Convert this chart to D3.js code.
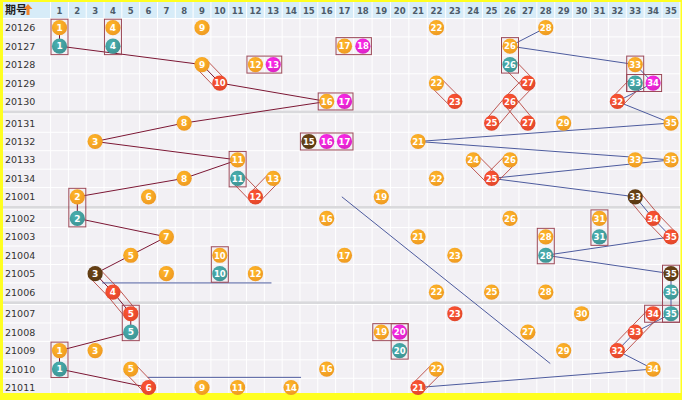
<!DOCTYPE html>
<html>
<head>
<meta charset="utf-8">
<script src="https://cdn.jsdelivr.net/npm/d3@7"></script>
<style>
  html, body { margin: 0; padding: 0; background: #fff; }
  svg { display: block; }
</style>
</head>
<body>
<svg id="chart" width="682" height="400"></svg>
<script>
// Draw periods (row labels)
const periods = ["20126","20127","20128","20129","20130","20131","20132","20133","20134","21001",
                 "21002","21003","21004","21005","21006","21007","21008","21009","21010","21011"];

// Front-zone numbers drawn in each period
const draws = [
  [1,4,9,22,28],
  [1,4,17,18,26],
  [9,12,13,26,33],
  [10,22,27,33,34],
  [16,17,23,26,32],
  [8,25,27,29,35],
  [3,15,16,17,21],
  [11,24,26,33,35],
  [8,11,13,22,25],
  [2,6,12,19,33],
  [2,16,26,31,34],
  [7,21,28,31,35],
  [5,10,17,23,28],
  [3,7,10,12,35],
  [4,22,25,28,35],
  [5,23,30,34,35],
  [5,19,20,27,33],
  [1,3,20,29,32],
  [1,5,16,22,34],
  [6,9,11,14,21]
];

// Ball kind per number: o = normal, t = repeat, r = diagonal neighbour, m = consecutive, d = jump
const kinds = [
  "ooooo","ttomo","oomto","rortm","omrrr",
  "orroo","odmmo","ooooo","otoor","oorod",
  "tooor","oootr","oooot","dotod","rooot",
  "rrort","tomor","ootor","toooo","rooor"
];

// Column header numbers
const columns = d3.range(1, 36);

// Framed groups: [colFrom, rowFrom, colTo, rowTo]
const boxes = [
  [1,0,1,1],[4,0,4,1],[17,1,18,1],[26,1,26,2],[12,2,13,2],[33,2,33,3],[33,3,34,3],
  [16,4,17,4],[15,6,17,6],[11,7,11,8],[2,9,2,10],[31,10,31,11],[28,11,28,12],
  [10,12,10,13],[35,13,35,15],[34,15,35,15],[5,15,5,16],[19,16,20,16],[20,16,20,17],[1,17,1,18]
];

// Diagonal neighbour links: [colA, rowA, colB, rowB]
const diagPairs = [
  [9,2,10,3],[22,3,23,4],[26,2,27,3],[27,3,26,4],[26,4,25,5],[26,4,27,5],[33,3,32,4],
  [11,8,12,9],[13,8,12,9],[24,7,25,8],[26,7,25,8],[33,9,34,10],[34,10,35,11],
  [3,13,4,14],[4,14,5,15],[34,15,33,16],[33,16,32,17],[5,18,6,19],[22,18,21,19]
];

// Additional guide segments: [colFrom, rowFrom, colTo, rowTo]
const guides = [
  [16.85,9,28.25,17.7],
  [3.4,13.5,12.9,13.5],
  [5.95,18.45,14.56,18.45]
];

const colors = { o: "#ef9a22", t: "#3e9494", r: "#e2472b", m: "#dc22c6", d: "#5a3912" };

const svg = d3.select("#chart");
const W = 682, H = 400;

const x = d3.scaleLinear().domain([1, 9, 17, 26, 35]).range([59.5, 202, 344.5, 510, 671]);
const yBase = d3.scaleLinear().domain([0, 19.51]).range([27.7, 387.5]);
const Y = r => yBase(r + Math.floor(r / 5) * 0.17);
const halfRow = 9.22;

// Frame
svg.append("rect").attr("x", 0).attr("y", 0).attr("width", W).attr("height", H).attr("fill", "#ffff20");
svg.append("rect").attr("x", 3).attr("y", 2).attr("width", W - 5).attr("height", 391).attr("fill", "#f2f0f4");

// Header
const headTop = 2, headBottom = 18;
svg.append("rect").attr("x", 3).attr("y", headTop).attr("width", W - 5).attr("height", headBottom - headTop).attr("fill", "#d7ecf8");

// Vertical grid lines
const gridG = svg.append("g");
const colEdges = d3.range(0.5, 36, 1).map(c => x(c));
gridG.selectAll("line.v").data(colEdges).join("line")
  .attr("x1", d => d).attr("x2", d => d).attr("y1", headTop).attr("y2", 393)
  .attr("stroke", "#ffffff").attr("stroke-width", 1);

// Horizontal grid lines and group separators
periods.forEach((p, i) => {
  const top = Y(i) - halfRow, bottom = Y(i) + halfRow;
  gridG.append("line").attr("x1", 3).attr("x2", W - 2).attr("y1", top).attr("y2", top)
    .attr("stroke", "#ffffff").attr("stroke-width", 1);
  if (i % 5 === 4 && i < periods.length - 1) {
    const next = Y(i + 1) - halfRow;
    gridG.append("rect").attr("x", 3).attr("y", bottom).attr("width", W - 5).attr("height", Math.max(1, next - bottom))
      .attr("fill", "#d9d9dc");
  }
});

// Header texts
svg.append("text").attr("x", 5).attr("y", 13.5).text("期号")
  .attr("font-family", "Noto Sans CJK SC").attr("font-weight", "bold").attr("font-size", 11).attr("fill", "#222");
svg.append("path")
  .attr("d", "M28,4 L32.5,9 L29.5,9 L29.5,15 L26.5,15 L26.5,9 L23.5,9 Z")
  .attr("fill", "#f0842a");
svg.selectAll("text.col").data(columns).join("text")
  .attr("class", "col").attr("x", d => x(d)).attr("y", 13.5).attr("text-anchor", "middle")
  .text(d => d).attr("font-family", "DejaVu Sans").attr("font-weight", "bold").attr("font-size", 8.5)
  .attr("fill", "#4d5b6a");

// Period labels
svg.selectAll("text.period").data(periods).join("text")
  .attr("class", "period").attr("x", 5).attr("y", (d, i) => Y(i) + 3.5)
  .text(d => d).attr("font-family", "DejaVu Sans").attr("font-size", 9.5).attr("fill", "#333");

// Min trend line (smallest number per period)
const lineGen = d3.line().x(d => x(d[0])).y(d => Y(d[1]));
svg.append("path").datum(draws.map((d, i) => [d3.min(d), i]))
  .attr("d", lineGen).attr("fill", "none").attr("stroke", "#7c1734").attr("stroke-width", 1);

// Max trend line (largest number per period)
svg.append("path").datum(draws.map((d, i) => [d3.max(d), i]))
  .attr("d", lineGen).attr("fill", "none").attr("stroke", "#4d5b9e").attr("stroke-width", 1);

// Guide segments
svg.selectAll("line.guide").data(guides).join("line")
  .attr("x1", d => x(d[0])).attr("y1", d => Y(d[1])).attr("x2", d => x(d[2])).attr("y2", d => Y(d[3]))
  .attr("stroke", "#4d5b9e").attr("stroke-width", 1);

// Diagonal link outlines (thin rotated frames around neighbouring balls)
const padSide = 6.5, padEnd = 2.5;
svg.selectAll("polygon.diag").data(diagPairs).join("polygon")
  .attr("points", d => {
    const ax = x(d[0]), ay = Y(d[1]), bx = x(d[2]), by = Y(d[3]);
    const len = Math.hypot(bx - ax, by - ay);
    const ux = (bx - ax) / len, uy = (by - ay) / len;
    const nx = -uy, ny = ux;
    const pts = [
      [ax - ux * padEnd + nx * padSide, ay - uy * padEnd + ny * padSide],
      [bx + ux * padEnd + nx * padSide, by + uy * padEnd + ny * padSide],
      [bx + ux * padEnd - nx * padSide, by + uy * padEnd - ny * padSide],
      [ax - ux * padEnd - nx * padSide, ay - uy * padEnd - ny * padSide]
    ];
    return pts.map(p => p.join(",")).join(" ");
  })
  .attr("fill", "none").attr("stroke", "#b8453f").attr("stroke-width", 0.9);

// Framed groups
svg.selectAll("rect.box").data(boxes).join("rect")
  .attr("x", d => x(d[0]) - 8.5).attr("y", d => Y(d[1]) - 8.5)
  .attr("width", d => x(d[2]) - x(d[0]) + 17).attr("height", d => Y(d[3]) - Y(d[1]) + 17)
  .attr("fill", "none").attr("stroke", "#9a4656").attr("stroke-width", 1);

// Ball gradients
const defs = svg.append("defs");
Object.entries(colors).forEach(([k, c]) => {
  const g = defs.append("radialGradient").attr("id", "ball-" + k)
    .attr("cx", "40%").attr("cy", "35%").attr("r", "65%");
  g.append("stop").attr("offset", "0%").attr("stop-color", d3.color(c).brighter(0.5));
  g.append("stop").attr("offset", "100%").attr("stop-color", c);
});

// Balls
const balls = [];
draws.forEach((nums, i) => nums.forEach((n, j) => balls.push({ n, row: i, kind: kinds[i][j] })));
const ballG = svg.selectAll("g.ball").data(balls).join("g")
  .attr("class", "ball").attr("transform", d => `translate(${x(d.n)},${Y(d.row)})`);
ballG.append("circle").attr("r", 7.6).attr("fill", d => `url(#ball-${d.kind})`);
ballG.append("text").attr("y", 3.3).attr("text-anchor", "middle")
  .text(d => d.n).attr("font-family", "DejaVu Sans").attr("font-weight", "bold")
  .attr("font-size", d => d.n >= 10 ? 8.5 : 9).attr("fill", "#fff");
</script>
</body>
</html>
